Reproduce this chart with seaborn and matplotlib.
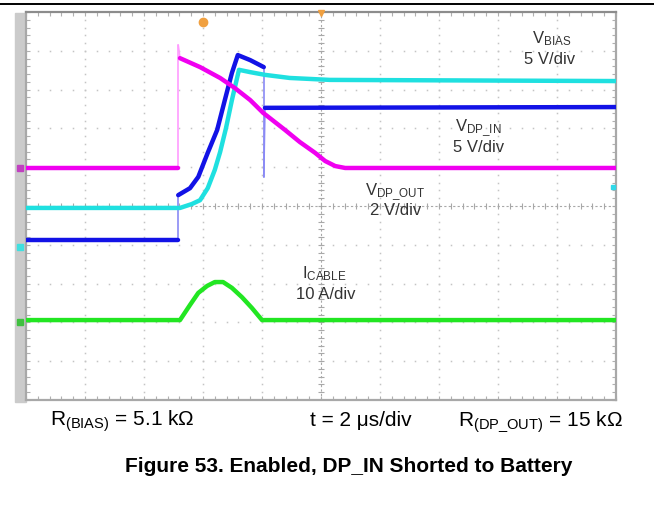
import matplotlib
matplotlib.use("Agg")
import matplotlib.pyplot as plt
from matplotlib.lines import Line2D
from matplotlib.patches import Rectangle
import numpy as np
import pandas as pd
import seaborn as sns

# Scope traces, time in divisions (2 us/div), level in divisions from centre
vbias_t = [0.00, 2.61, 2.81, 2.95, 3.08, 3.20, 3.29, 3.39, 3.49, 3.61, 3.80, 4.05, 4.47, 5.15, 10.0]
vbias_v = [-0.05, -0.05, 0.05, 0.15, 0.46, 0.93, 1.39, 2.01, 2.73, 3.51, 3.45, 3.38, 3.30, 3.25, 3.22]

vin_t = [0.00, 2.58, 2.58, 2.78, 2.92, 3.08, 3.24, 3.37, 3.49, 3.59, 3.80, 4.03, 4.03, 4.05, 10.0]
vin_v = [-0.88, -0.88, 0.28, 0.46, 0.75, 1.37, 1.96, 2.73, 3.43, 3.89, 3.76, 3.58, 0.75, 2.53, 2.55]

vout_t = [0.00, 2.58, 2.58, 2.61, 2.95, 3.29, 3.54, 3.80, 4.02, 4.39, 4.64, 4.90, 5.07, 5.24, 5.41, 10.0]
vout_v = [0.98, 0.98, 4.15, 3.81, 3.58, 3.30, 3.04, 2.73, 2.40, 1.96, 1.65, 1.37, 1.16, 1.03, 0.98, 0.98]

icable_t = [0.00, 2.61, 2.78, 2.92, 3.07, 3.20, 3.34, 3.49, 3.66, 3.83, 4.00, 10.0]
icable_v = [-2.94, -2.94, -2.55, -2.24, -2.06, -1.96, -1.96, -2.11, -2.35, -2.63, -2.94, -2.94]

trace_names = ["VBIAS", "VDP_IN", "ICABLE", "VDP_OUT"]
trace_colors = {"VBIAS": "#1fe0e0", "VDP_IN": "#1212e6", "ICABLE": "#22e622", "VDP_OUT": "#f000f0"}
edge_colors = {"VBIAS": "#9ff0f0", "VDP_IN": "#8a8af5", "ICABLE": "#9af59a", "VDP_OUT": "#ff9cff"}

traces = {
    "VBIAS": (vbias_t, vbias_v),
    "VDP_IN": (vin_t, vin_v),
    "ICABLE": (icable_t, icable_v),
    "VDP_OUT": (vout_t, vout_v),
}

# Split every trace into slow runs (thick) and fast edges (faint, thin)
slow_rows, fast_rows = [], []
for name in trace_names:
    t, v = traces[name]
    part, edge_id, prev_fast = 0, 0, True
    for i in range(len(t) - 1):
        fast = (t[i + 1] - t[i] < 0.05) and abs(v[i + 1] - v[i]) > 0.3
        if fast:
            fast_rows.append((name, f"{name}-{edge_id}", t[i], v[i]))
            fast_rows.append((name, f"{name}-{edge_id}", t[i + 1], v[i + 1]))
            edge_id += 1
            prev_fast = True
        else:
            if prev_fast:
                part += 1
                slow_rows.append((name, f"{name}-{part}", t[i], v[i]))
            slow_rows.append((name, f"{name}-{part}", t[i + 1], v[i + 1]))
            prev_fast = False

slow = pd.DataFrame(slow_rows, columns=["trace", "part", "t", "v"])
fast = pd.DataFrame(fast_rows, columns=["trace", "part", "t", "v"])

sns.set_theme(style="white")
plt.rcParams["font.family"] = ["Liberation Sans", "DejaVu Sans"]
plt.rcParams["mathtext.fontset"] = "custom"
plt.rcParams["mathtext.rm"] = "Liberation Sans"
plt.rcParams["mathtext.it"] = "Liberation Sans:italic"
plt.rcParams["mathtext.bf"] = "Liberation Sans:bold"

W, H = 654, 514
fig = plt.figure(figsize=(W / 100, H / 100), dpi=100)
fig.patch.set_facecolor("white")
ax = fig.add_axes([26 / W, 114 / H, 590 / W, 388 / H])
ax.set_xlim(0, 10)
ax.set_ylim(-5, 5)

# graticule: dotted divisions and ticked centre lines
dots = np.arange(-5, 5.001, 0.2)
xdots = np.arange(0, 10.001, 0.2)
for gx in range(1, 10):
    if gx != 5:
        ax.plot(np.full_like(dots, gx), dots, ls="none", marker="s", ms=1.1,
                color="#c4c4c4", mew=0, zorder=1)
for gy in range(-4, 5):
    if gy != 0:
        ax.plot(xdots, np.full_like(xdots, gy), ls="none", marker="s", ms=1.1,
                color="#c4c4c4", mew=0, zorder=1)
ax.axhline(0, color="#a8a8a8", lw=0.8, ls=(0, (2, 2)), zorder=1)
ax.axvline(5, color="#a8a8a8", lw=0.8, ls=(0, (2, 2)), zorder=1)
ax.plot(xdots, np.zeros_like(xdots), ls="none", marker="|", ms=4, color="#a8a8a8",
        mew=0.8, zorder=1)
ax.plot(np.full_like(dots, 5), dots, ls="none", marker="_", ms=5, color="#a8a8a8",
        mew=0.8, zorder=1)

sns.lineplot(data=fast, x="t", y="v", hue="trace", units="part", estimator=None,
             hue_order=trace_names, palette=edge_colors, lw=1.2, sort=False,
             legend=False, ax=ax, zorder=2)
sns.lineplot(data=slow, x="t", y="v", hue="trace", units="part", estimator=None,
             hue_order=trace_names, palette=trace_colors, lw=3.2, sort=False,
             legend=False, ax=ax, zorder=3)

# channel and trigger markers
ax.plot([-0.10], [0.98], marker="s", ms=4.5, color="#c040c0", clip_on=False, zorder=5)
ax.plot([-0.10], [-1.06], marker="s", ms=4.5, color="#40e0e0", clip_on=False, zorder=5)
ax.plot([-0.10], [-2.99], marker="s", ms=4.5, color="#40c040", clip_on=False, zorder=5)
ax.plot([9.95], [0.49], marker="s", ms=3.5, color="#30d8e8", clip_on=False, zorder=5)
ax.plot([3.0], [4.74], marker="o", ms=6, color="#f0a040", clip_on=False, zorder=5)
ax.plot([5.0], [4.97], marker="v", ms=5, color="#f0a040", clip_on=False, zorder=5)

ax.set_xlabel("")
ax.set_ylabel("")
ax.set_xticks(range(11))
ax.set_yticks(range(-5, 6))
ax.set_xticks(xdots, minor=True)
ax.set_yticks(dots, minor=True)
ax.tick_params(which="both", direction="in", length=3, width=0.8, color="#b0b0b0",
               top=True, right=True, bottom=True, left=True,
               labelbottom=False, labelleft=False)
for side, sp in ax.spines.items():
    sp.set_visible(True)
    sp.set_color("#8c8c8c" if side == "top" else "#a8a8a8")
    sp.set_linewidth(1.6)

# grey strip left of the screen and rule across the top
fig.add_artist(Rectangle((15 / W, 1 - 402 / H), 11 / W, 389 / H,
                         transform=fig.transFigure, color="#cbcbcb", zorder=0))
fig.add_artist(Line2D([0, 1], [1 - 4 / H, 1 - 4 / H], color="black", lw=1.4,
                      transform=fig.transFigure))


def put(x, y, s, **kw):
    fig.text(x / W, 1 - y / H, s, **kw)


lab = dict(fontsize=12, color="#333333", ha="center", va="baseline")
put(552, 43, r"$\mathregular{V_{BIAS}}$", **lab)
put(550, 64, "5 V/div", **lab)
put(478, 131, r"$\mathregular{V_{DP\_IN}}$", **lab)
put(479, 152, "5 V/div", **lab)
put(395, 195, r"$\mathregular{V_{DP\_OUT}}$", **lab)
put(396, 215, "2 V/div", **lab)
put(324, 278, r"$\mathregular{I_{CABLE}}$", **lab)
put(326, 299, "10 A/div", **lab)

bot = dict(fontsize=15, color="black", ha="left", va="baseline")
put(50, 426, r"$\mathregular{R_{(BIAS)}}$ = 5.1 kΩ", **bot)
put(310, 426, "t = 2 μs/div", **bot)
put(458, 426, r"$\mathregular{R_{(DP\_OUT)}}$ = 15 kΩ", **bot)

put(349, 467, "Figure 53. Enabled, DP_IN Shorted to Battery", fontsize=15,
    fontweight="bold", color="black", ha="center", va="center")

fig.savefig("out.png", dpi=100)
